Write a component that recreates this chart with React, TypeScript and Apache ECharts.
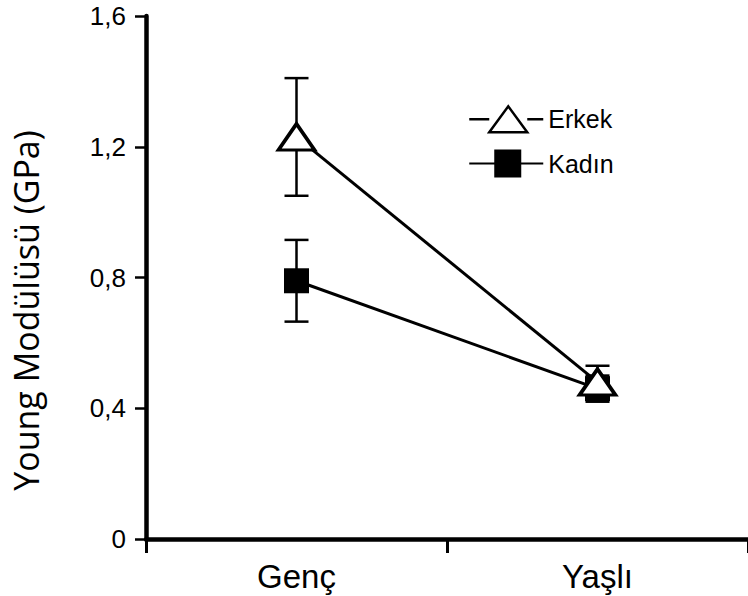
import React, { useEffect, useRef } from "react";
import * as echarts from "echarts";

const categories = ["Genç", "Yaşlı"];
const erkekValues = [1.23, 0.48];
const erkekErrors = [0.18, 0.05];
const kadinValues = [0.79, 0.46];
const kadinErrors = [0.125, 0.04];
const yTicks = [0, 0.4, 0.8, 1.2, 1.6];

const FONT = "'Liberation Sans', Arial, sans-serif";

const erkekIcon = "path://M0 13 L20 13 M58 13 L74 13 M20 25 L39 1 L58 25 Z";
const kadinIcon = "path://M0 13 L26 13 M51 13 L74 13 M26 1 L51 1 L51 25 L26 25 Z";

function errorSeries(name: string, values: number[], errors: number[]) {
  const data = values.map((v, i) => [i, v - errors[i], v + errors[i]]);
  return {
    type: "custom",
    name: name + "-err",
    z: 1,
    silent: true,
    data,
    renderItem: (params: any, api: any) => {
      const x = api.value(0);
      const lo = api.coord([x, api.value(1)]);
      const hi = api.coord([x, api.value(2)]);
      const half = 12;
      const style = { stroke: "#000", lineWidth: 2.5 };
      return {
        type: "group",
        children: [
          { type: "line", shape: { x1: lo[0], y1: lo[1], x2: hi[0], y2: hi[1] }, style },
          { type: "line", shape: { x1: lo[0] - half, y1: lo[1], x2: lo[0] + half, y2: lo[1] }, style },
          { type: "line", shape: { x1: hi[0] - half, y1: hi[1], x2: hi[0] + half, y2: hi[1] }, style },
        ],
      };
    },
  };
}

export default function App() {
  const ref = useRef<HTMLDivElement>(null);
  useEffect(() => {
    const chart = echarts.init(ref.current!, undefined, { renderer: "svg" });
    chart.setOption({
      animation: false,
      backgroundColor: "#fff",
      grid: { left: 146, right: -8, top: 16, bottom: 57, containLabel: false },
      legend: {
        orient: "vertical",
        left: 463,
        top: 100,
        itemWidth: 74,
        itemHeight: 26,
        itemGap: 16,
        symbolKeepAspect: false,
        data: [
          { name: "Erkek", icon: erkekIcon, itemStyle: { color: "#fff", borderColor: "#000", borderWidth: 2.5 } },
          { name: "Kadın", icon: kadinIcon, itemStyle: { color: "#000", borderColor: "#000", borderWidth: 2 } },
        ],
        textStyle: { fontSize: 25, fontFamily: FONT, color: "#000" },
      },
      xAxis: {
        type: "category",
        data: categories,
        boundaryGap: true,
        axisLine: { lineStyle: { color: "#000", width: 4.5 } },
        axisTick: { show: true, length: 14, lineStyle: { color: "#000", width: 3 } },
        axisLabel: { fontSize: 33, fontFamily: FONT, color: "#000", margin: 21 },
        splitLine: { show: false },
      },
      yAxis: {
        type: "value",
        min: 0,
        max: 1.6,
        interval: 0.4,
        name: "Young Modülüsü (GPa)",
        nameLocation: "middle",
        nameGap: 103,
        nameTextStyle: { fontSize: 34, fontFamily: "'Open Sans', sans-serif", color: "#000", padding: [0, 66, 0, 0] },
        axisLine: { show: true, lineStyle: { color: "#000", width: 4.5 } },
        axisTick: { show: true, length: 11, lineStyle: { color: "#000", width: 2.5 } },
        axisLabel: {
          fontSize: 26,
          fontFamily: FONT,
          color: "#000",
          margin: 20,
          formatter: (v: number) => {
            const t = yTicks.find((k) => Math.abs(k - v) < 1e-6);
            const val = t === undefined ? v : t;
            return val === 0 ? "0" : val.toFixed(1).replace(".", ",");
          },
        },
        splitLine: { show: false },
      },
      series: [
        errorSeries("Kadın", kadinValues, kadinErrors),
        errorSeries("Erkek", erkekValues, erkekErrors),
        {
          type: "line",
          name: "Kadın",
          z: 3,
          data: kadinValues,
          symbol: "rect",
          symbolSize: 25,
          lineStyle: { color: "#000", width: 3 },
          itemStyle: { color: "#000", borderColor: "#000", borderWidth: 0 },
        },
        {
          type: "line",
          name: "Erkek",
          z: 4,
          data: erkekValues,
          symbol: "triangle",
          symbolSize: [36, 26],
          lineStyle: { color: "#000", width: 3 },
          itemStyle: { color: "#fff", borderColor: "#000", borderWidth: 3.5 },
        },
      ],
    });
    return () => chart.dispose();
  }, []);
  return (
    <div
      ref={ref}
      style={{ position: "fixed", left: 0, top: 0, width: 748, height: 596 }}
    />
  );
}
